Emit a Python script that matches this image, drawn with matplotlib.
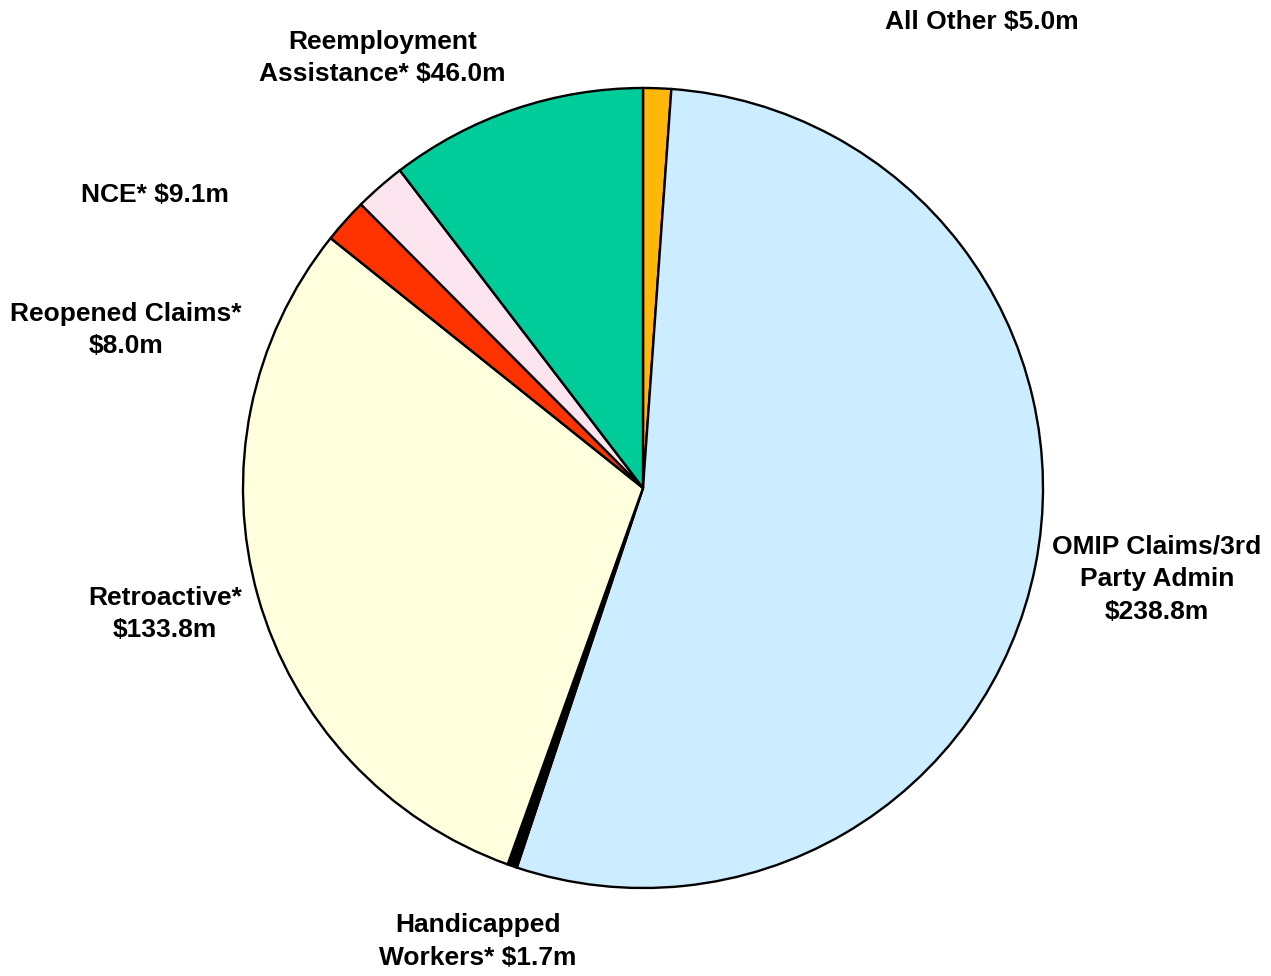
import matplotlib.pyplot as plt

# Slice data, clockwise from 12 o'clock
labels = ['All Other $5.0m',
          'OMIP Claims/3rd\nParty Admin\n$238.8m',
          'Handicapped\nWorkers* $1.7m',
          'Retroactive*\n$133.8m',
          'Reopened Claims*\n$8.0m',
          'NCE* $9.1m',
          'Reemployment\nAssistance* $46.0m']
values = [5.0, 238.8, 1.7, 133.8, 8.0, 9.1, 46.0]
colors = ['#FFB80A', '#CCECFF', '#000000', '#FFFFDD', '#FF3300', '#FCE4EE', '#00CC99']

# label anchor points (pie units, centre 0,0 radius 1)
label_x = [0.848, 1.285, -0.413, -1.195, -1.292, -1.220, -0.652]
label_y = [1.165, -0.227, -1.133, -0.315, 0.395, 0.732, 1.075]

fig = plt.figure(figsize=(12.71, 9.76), dpi=100)
ax = fig.add_axes([0, 0, 1, 1])

ax.pie(values, colors=colors, startangle=90, counterclock=False, radius=1,
       wedgeprops=dict(edgecolor='black', linewidth=1.7))

for lab, x, y in zip(labels, label_x, label_y):
    ax.text(x, y, lab, ha='center', va='center', fontsize=19, fontweight='bold',
            family='Liberation Sans', linespacing=1.46)

ax.set_xlim(-643 / 400, (1271 - 643) / 400)
ax.set_ylim(-(976 - 488) / 400, 488 / 400)
ax.set_aspect('auto')
ax.axis('off')

fig.savefig('out.png', dpi=100)
